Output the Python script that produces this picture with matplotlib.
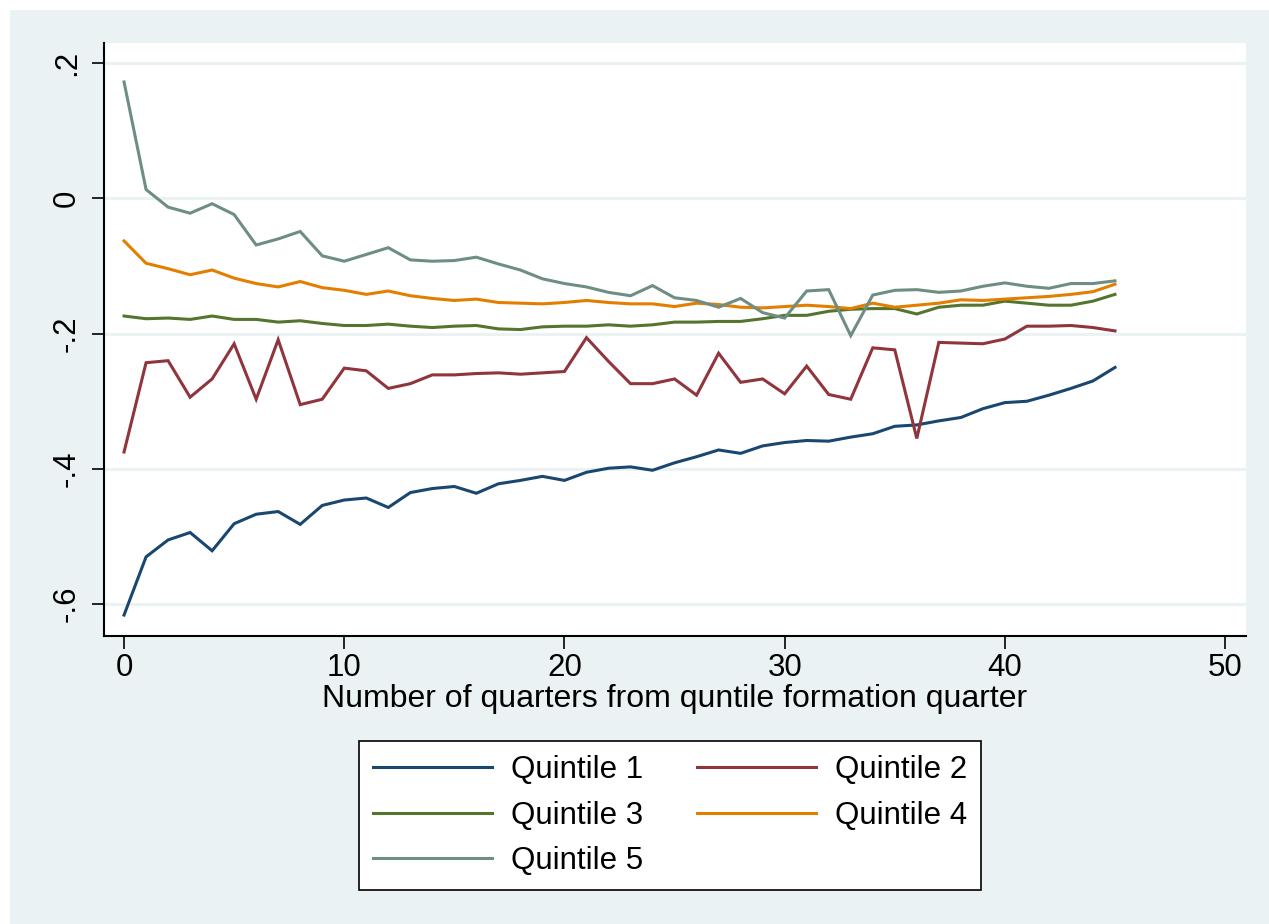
import matplotlib
matplotlib.use("Agg")
import matplotlib.pyplot as plt
from matplotlib.patches import Rectangle

# =====================================
# Data
# =====================================

quarters = list(range(46))

quintile_1 = [
    -0.616, -0.530, -0.505, -0.494, -0.521, -0.481, -0.467, -0.463, -0.482, -0.454,
    -0.446, -0.443, -0.457, -0.435, -0.429, -0.426, -0.436, -0.422, -0.417, -0.411,
    -0.417, -0.405, -0.399, -0.397, -0.402, -0.391, -0.382, -0.372, -0.377, -0.366,
    -0.361, -0.358, -0.359, -0.353, -0.348, -0.337, -0.335, -0.329, -0.324, -0.311,
    -0.302, -0.300, -0.291, -0.281, -0.270, -0.250,
]

quintile_2 = [
    -0.375, -0.243, -0.240, -0.294, -0.267, -0.215, -0.297, -0.209, -0.305, -0.297,
    -0.251, -0.255, -0.281, -0.274, -0.261, -0.261, -0.259, -0.258, -0.260, -0.258,
    -0.256, -0.206, -0.241, -0.274, -0.274, -0.267, -0.291, -0.229, -0.272, -0.267,
    -0.289, -0.248, -0.290, -0.297, -0.221, -0.224, -0.355, -0.213, -0.214, -0.215,
    -0.208, -0.189, -0.189, -0.188, -0.191, -0.196,
]

quintile_3 = [
    -0.174, -0.178, -0.177, -0.179, -0.174, -0.179, -0.179, -0.183, -0.181, -0.185,
    -0.188, -0.188, -0.186, -0.189, -0.191, -0.189, -0.188, -0.193, -0.194, -0.190,
    -0.189, -0.189, -0.187, -0.189, -0.187, -0.183, -0.183, -0.182, -0.182, -0.178,
    -0.173, -0.173, -0.167, -0.164, -0.163, -0.163, -0.171, -0.161, -0.158, -0.158,
    -0.152, -0.155, -0.158, -0.158, -0.152, -0.142,
]

quintile_4 = [
    -0.063, -0.096, -0.104, -0.113, -0.106, -0.118, -0.126, -0.131, -0.123, -0.132,
    -0.136, -0.142, -0.137, -0.144, -0.148, -0.151, -0.149, -0.154, -0.155, -0.156,
    -0.154, -0.151, -0.154, -0.156, -0.156, -0.160, -0.155, -0.157, -0.161, -0.162,
    -0.160, -0.158, -0.160, -0.163, -0.155, -0.161, -0.158, -0.155, -0.150, -0.151,
    -0.149, -0.147, -0.145, -0.142, -0.138, -0.127,
]

quintile_5 = [
    0.172, 0.013, -0.013, -0.022, -0.008, -0.024, -0.069, -0.060, -0.049, -0.085,
    -0.093, -0.083, -0.073, -0.091, -0.093, -0.092, -0.087, -0.097, -0.106, -0.119,
    -0.126, -0.131, -0.139, -0.144, -0.129, -0.147, -0.151, -0.161, -0.148, -0.169,
    -0.177, -0.137, -0.135, -0.203, -0.143, -0.136, -0.135, -0.139, -0.137, -0.130,
    -0.125, -0.130, -0.133, -0.126, -0.126, -0.122,
]

labels = ["Quintile 1", "Quintile 2", "Quintile 3", "Quintile 4", "Quintile 5"]
colors = ["#1a476f", "#90353b", "#55752f", "#e37e00", "#6e8e84"]

x_ticks = [0, 10, 20, 30, 40, 50]
y_ticks = [-0.6, -0.4, -0.2, 0.0, 0.2]
y_tick_labels = ["-.6", "-.4", "-.2", "0", ".2"]

# =====================================
# Figure
# =====================================

plt.rcParams["font.family"] = ["Liberation Sans", "DejaVu Sans"]

W, H = 1269, 924
bg = "#eaf2f3"
fs = 22.5

fig = plt.figure(figsize=(W / 100, H / 100), dpi=100, facecolor="white")
fig.patches.append(Rectangle(
    (10 / W, 0), 1 - 10 / W, 1 - 10 / H,
    transform=fig.transFigure, facecolor=bg, edgecolor="none", zorder=-10
))

ax = fig.add_axes([104 / W, 1 - 636 / H, (1246 - 104) / W, (636 - 43) / H])
ax.set_facecolor("white")

series = [quintile_1, quintile_2, quintile_3, quintile_4, quintile_5]
handles = []
for values, label, color in zip(series, labels, colors):
    (h,) = ax.plot(quarters, values, color=color, lw=2.2, label=label,
                   solid_joinstyle="miter")
    handles.append(h)

ax.set_xlim(-0.91, 50.95)
ax.set_ylim(-0.647, 0.2296)

ax.set_xticks(x_ticks)
ax.set_yticks(y_ticks)
ax.set_yticklabels(y_tick_labels, rotation=90, va="center")

ax.tick_params(axis="both", labelsize=fs, length=9, width=1.2, color="black")
ax.tick_params(axis="x", pad=3)
ax.tick_params(axis="y", pad=7)

ax.grid(axis="y", color=bg, lw=2.2)
ax.set_axisbelow(True)

for side in ["top", "right"]:
    ax.spines[side].set_visible(False)
for side in ["left", "bottom"]:
    ax.spines[side].set_linewidth(1.5)

ax.set_xlabel("Number of quarters from quntile formation quarter",
              fontsize=23, labelpad=1)

# =====================================
# Legend (row-wise order like Stata)
# =====================================

order = [0, 2, 4, 1, 3]
leg = fig.legend(
    [handles[i] for i in order],
    [labels[i] for i in order],
    ncol=2,
    loc="upper left",
    bbox_to_anchor=(359 / W, 1 - 741 / H),
    fontsize=fs,
    frameon=True,
    fancybox=False,
    framealpha=1,
    facecolor="white",
    edgecolor="black",
    handlelength=3.8,
    handletextpad=0.6,
    columnspacing=1.75,
    labelspacing=0.5,
    borderpad=0.45,
    borderaxespad=0,
)
leg.get_frame().set_linewidth(1.2)
for line in leg.get_lines():
    line.set_linewidth(2.2)

fig.savefig("out.png", dpi=100, facecolor=fig.get_facecolor())
